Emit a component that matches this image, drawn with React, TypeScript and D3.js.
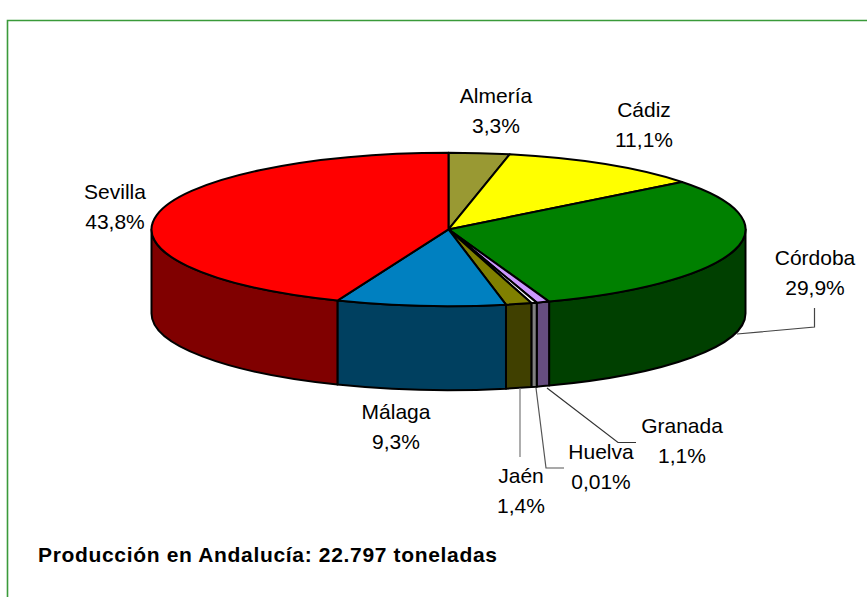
import * as d3 from "d3";

const provinces = ["Almería", "Cádiz", "Córdoba", "Granada", "Huelva", "Jaén", "Málaga", "Sevilla"];
const percentLabels = ["3,3%", "11,1%", "29,9%", "1,1%", "0,01%", "1,4%", "9,3%", "43,8%"];
// slice sizes as measured on the picture (the thin ones are drawn wider than their label says)
const shares = [3.3, 11.1, 30.1, 0.7, 0.3, 1.4, 9.2, 43.9];
const topColors = ["#999933", "#ffff00", "#008000", "#cc99ff", "#ffffff", "#808000", "#0080c0", "#ff0000"];
const sideColors = ["#4d4d1a", "#808000", "#004000", "#664d80", "#808080", "#404000", "#004060", "#800000"];

const chartWidth = 867;
const chartHeight = 597;
const cx = 448.5;
const cy = 229.4;
const rx = 297;
const ry = 76.7;
const depth = 84;

// label centres, same order as provinces
const labelX = [496, 644, 815, 682, 601, 521, 396, 115];
const labelY = [103, 117, 265, 433, 459, 483, 419, 199];
const lineGap = 30;

const leaders = [
  { color: "#444", pts: [[814.5, 308], [814.5, 327], [737, 334]] },
  { color: "#333", pts: [[547, 388], [618, 442.5], [636, 442.5]] },
  { color: "#555", pts: [[536, 388], [546, 468], [564, 468]] },
  { color: "#777", pts: [[520, 388], [520, 457]] },
];

const point = (a: number, dy = 0): [number, number] => [cx + rx * Math.sin(a), cy - ry * Math.cos(a) + dy];

const pieLayout = d3.pie<number>().sort(null).value((d) => d);
const arcs = pieLayout(shares);
const leaderLine = d3.line();

function topPath(a0: number, a1: number) {
  const [x0, y0] = point(a0);
  const [x1, y1] = point(a1);
  const large = a1 - a0 > Math.PI ? 1 : 0;
  return `M${cx},${cy}L${x0},${y0}A${rx},${ry} 0 ${large} 1 ${x1},${y1}Z`;
}

function sidePath(a0: number, a1: number) {
  // only the front half of the rim is visible
  const from = Math.max(a0, Math.PI / 2);
  const to = Math.min(a1, (3 * Math.PI) / 2);
  if (to <= from) return null;
  const [x0, y0] = point(from);
  const [x1, y1] = point(to);
  return `M${x0},${y0}A${rx},${ry} 0 0 1 ${x1},${y1}L${x1},${y1 + depth}A${rx},${ry} 0 0 0 ${x0},${y0 + depth}Z`;
}

export default function App() {
  return (
    <svg
      width={chartWidth}
      height={chartHeight}
      style={{ position: "absolute", left: 0, top: 0, background: "#fff" }}
      fontFamily="'Liberation Sans', Arial, sans-serif"
    >
      <path d={`M7.5,${chartHeight}V20.5H${chartWidth}`} fill="none" stroke="#3a9a3a" strokeWidth={1.6} />

      <g stroke="#000" strokeWidth={2} strokeLinejoin="round">
        {arcs.map((d, i) => {
          const side = sidePath(d.startAngle, d.endAngle);
          return side ? <path key={i} d={side} fill={sideColors[i]} /> : null;
        })}
        {arcs.map((d, i) => (
          <path key={i} d={topPath(d.startAngle, d.endAngle)} fill={topColors[i]} />
        ))}
      </g>

      <g fill="none" strokeWidth={1.2}>
        {leaders.map((l, i) => (
          <path key={i} stroke={l.color} d={leaderLine(l.pts as [number, number][]) ?? ""} />
        ))}
      </g>

      <g fontSize={21} fill="#000" textAnchor="middle">
        {provinces.map((name, i) => (
          <text key={name} x={labelX[i]}>
            <tspan x={labelX[i]} y={labelY[i]}>{name}</tspan>
            <tspan x={labelX[i]} y={labelY[i] + lineGap}>{percentLabels[i]}</tspan>
          </text>
        ))}
      </g>

      <text x={38} y={562} fontSize={21} fontWeight="bold" fill="#000" textLength={459} lengthAdjust="spacing">
        Producción en Andalucía: 22.797 toneladas
      </text>
    </svg>
  );
}
